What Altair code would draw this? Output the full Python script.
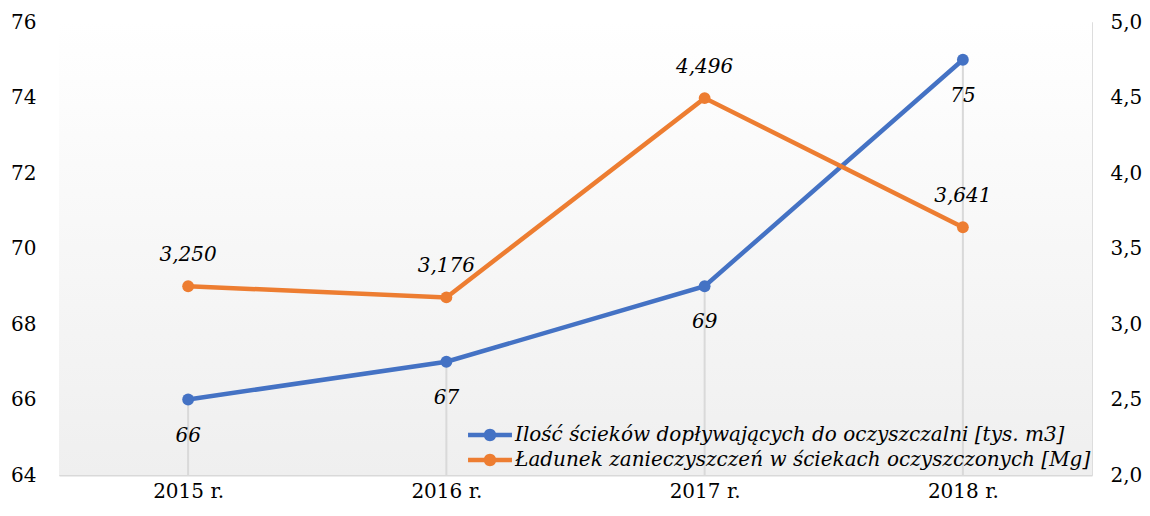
import altair as alt
import pandas as pd

years = ["2015 r.", "2016 r.", "2017 r.", "2018 r."]
inflow = [66, 67, 69, 75]
load = [3.250, 3.176, 4.496, 3.641]
name_inflow = "Ilość ścieków dopływających do oczyszczalni [tys. m3]"
name_load = "Ładunek zanieczyszczeń w ściekach oczyszczonych [Mg]"

BLUE = "#4472C4"
ORANGE = "#ED7D31"
FONT = "DejaVu Serif"
W, H = 1033, 453

df1 = pd.DataFrame({"year": years, "v": inflow, "series": name_inflow,
                    "lab": [str(v) for v in inflow]})
df2 = pd.DataFrame({"year": years, "v": load, "series": name_load,
                    "lab": [f"{v:.3f}".replace(".", ",") for v in load]})

x = alt.X("year:N", sort=years, title=None,
          scale=alt.Scale(type="point", padding=0.5),
          axis=alt.Axis(labelAngle=0, ticks=False, grid=False, labelFontSize=20,
                        labelColor="#000000", domainColor="#d9d9d9", domainWidth=2,
                        labelPadding=6, labelFont=FONT))

color = alt.Color("series:N", title=None,
                  scale=alt.Scale(domain=[name_inflow, name_load], range=[BLUE, ORANGE]),
                  legend=alt.Legend(orient="none", legendX=419, legendY=401,
                                    symbolType="M-1.83,-0.18L1.83,-0.18L1.83,0.18L-1.83,0.18Z M0.52,0 A0.52,0.52 0 1,1 -0.52,0 A0.52,0.52 0 1,1 0.52,0 Z",
                                    symbolSize=576, symbolStrokeWidth=0,
                                    labelFontSize=20, labelFont=FONT, labelFontStyle="italic",
                                    labelColor="#000000", labelLimit=1000, labelOffset=13,
                                    rowPadding=3, padding=0))

yax1 = alt.Axis(values=[64, 66, 68, 70, 72, 74, 76], grid=False, ticks=False, domain=False,
                labelFontSize=20, labelFont=FONT, labelColor="#000000", labelPadding=23)
y1 = alt.Y("v:Q", title=None, scale=alt.Scale(domain=[64, 76], nice=False, zero=False), axis=yax1)

yax2 = alt.Axis(orient="right", values=[2, 2.5, 3, 3.5, 4, 4.5, 5], grid=False, ticks=False,
                domain=False, labelFontSize=20, labelFont=FONT, labelColor="#000000",
                labelPadding=18,
                labelExpr="replace(format(datum.value, '.1f'), '.', ',')")
y2 = alt.Y("v:Q", title=None, scale=alt.Scale(domain=[2, 5], nice=False, zero=False), axis=yax2)

grad = alt.LinearGradient(gradient="linear", x1=0, x2=0, y1=0, y2=1,
                          stops=[alt.GradientStop(color="#ffffff", offset=0),
                                 alt.GradientStop(color="#efefef", offset=1)])
bg = alt.Chart(pd.DataFrame({"a": [0]})).mark_rect(color=grad).encode(
    x=alt.value(0), x2=alt.value(W), y=alt.value(0), y2=alt.value(H))

base1 = alt.Chart(df1)
drop = base1.mark_rule(color="#d9d9d9", strokeWidth=2).encode(x=x, y=y1, y2=alt.datum(64))
line1 = base1.mark_line(strokeWidth=4.5, point=alt.OverlayMarkDef(size=140, filled=True, opacity=1)).encode(
    x=x, y=y1, color=color)
text1 = base1.mark_text(dy=36, fontSize=20, font=FONT, fontStyle="italic", color="#000000").encode(
    x=x, y=y1, text="lab:N")
layer1 = alt.layer(bg, drop, line1, text1)

base2 = alt.Chart(df2)
line2 = base2.mark_line(strokeWidth=4.5, point=alt.OverlayMarkDef(size=140, filled=True, opacity=1)).encode(
    x=x, y=y2, color=color)
text2 = base2.mark_text(dy=-31, fontSize=20, font=FONT, fontStyle="italic", color="#000000").encode(
    x=x, y=y2, text="lab:N")
layer2 = alt.layer(line2, text2)

chart = alt.layer(layer1, layer2).resolve_scale(y="independent").properties(
    width=W, height=H,
    autosize=alt.AutoSizeParams(type="none"),
    padding={"left": 51, "top": 14, "right": 50, "bottom": 33},
).configure_view(stroke=None).configure(font=FONT, background="#ffffff")

chart.save("out.html", embed_options={"renderer": "svg", "actions": False})
